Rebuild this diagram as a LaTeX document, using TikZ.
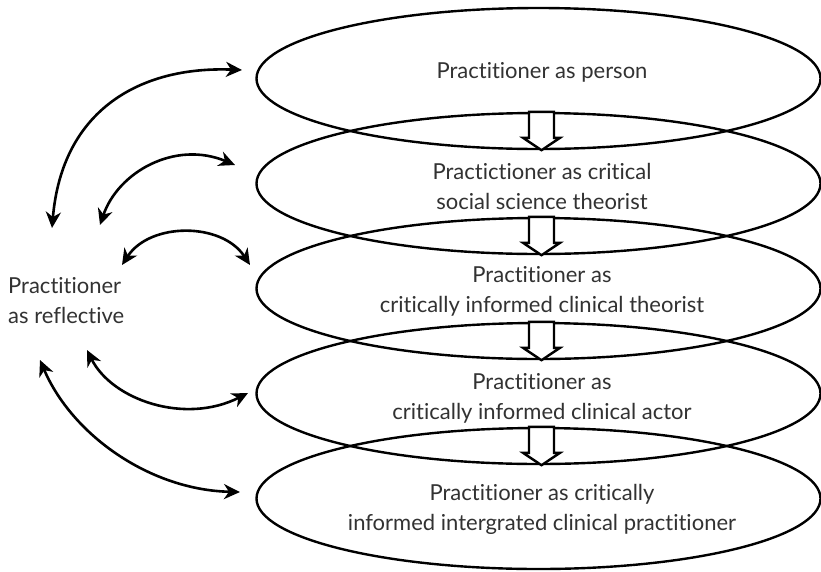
\documentclass[tikz,border=0pt]{standalone}
\usepackage{fontspec}
\setmainfont{Lato}[Ligatures={NoCommon}]
\usetikzlibrary{shapes.geometric,arrows.meta,calc}
\definecolor{txt}{RGB}{50,50,50}
\begin{document}
\begin{tikzpicture}[x=1pt,y=-1pt,
  oval/.style={draw=black,line width=2.4pt,ellipse,minimum width=564pt,minimum height=141pt,inner sep=0pt},
  lbl/.style={text=txt,font=\fontsize{22}{30}\selectfont,align=center,inner sep=0pt},
  tipx/.tip={Stealth[length=16pt,width=15pt,inset=5pt]},
  link/.style={line width=2.6pt,tipx-tipx},
  hollow/.style={draw=black,fill=white,line width=2.4pt,line join=miter}]
\useasboundingbox (0,0) rectangle (821,571);
\fill[white] (0,0) rectangle (821,571);

% ellipses
\foreach \i in {0,...,4}{
  \node[oval] (e\i) at (538.5,{78.5+105*\i}) {};
}
% texts
\node[lbl] (t0) at (542,72) {Practitioner as person};
\node[lbl] (t1) at (542,186) {Practictioner as critical\\social science theorist};
\node[lbl] (t2) at (542,291) {Practitioner as\\critically informed clinical theorist};
\node[lbl] (t3) at (542,398) {Practitioner as\\critically informed clinical actor};
\node[lbl] (t4) at (542,509) {Practitioner as critically\\informed intergrated clinical practitioner};
\node[lbl,align=left,anchor=west] (refl) at (8,301) {Practitioner\\as reflective};

% hollow arrows between ellipses
\foreach \i/\j in {0/1,1/2,2/3,3/4}{
  \draw[hollow] ($(e\j.north)+(-9.5,0)$) -- ($(e\j.north)+(15.5,0)$)
    -- ($(e\j.north)+(15.5,26)$) -- ($(e\j.north)+(21.5,26)$)
    -- ($(e\i.south)+(3,0)$) -- ($(e\j.north)+(-15.5,26)$)
    -- ($(e\j.north)+(-9.5,26)$) -- cycle;
}

% curved double arrows
\coordinate (a0) at (52,228);  \coordinate (b0) at (242,70);
\coordinate (a1) at (100,225); \coordinate (b1) at (235,165);
\coordinate (a2) at (122,265); \coordinate (b2) at (250,265);
\coordinate (a3) at (87,350);  \coordinate (b3) at (248,393);
\coordinate (a4) at (40,360);  \coordinate (b4) at (240,492);
\draw[link] (a0) .. controls (62,110) and (140,66) .. (b0);
\draw[link] (a1) .. controls (118,172) and (175,140) .. (b1);
\draw[link] (a2) .. controls (150,222) and (222,222) .. (b2);
\draw[link] (a3) .. controls (112,400) and (185,425) .. (b3);
\draw[link] (a4) .. controls (72,435) and (150,490) .. (b4);
\end{tikzpicture}
\end{document}
